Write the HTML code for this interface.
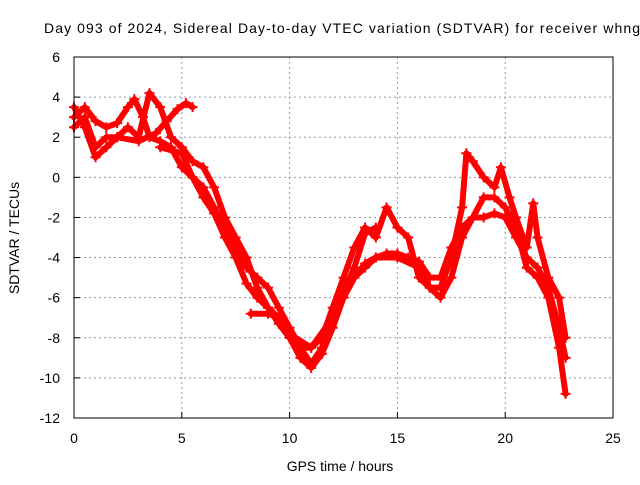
<!DOCTYPE html>
<html><head><meta charset="utf-8"><style>
body{margin:0;background:#fff}
svg{font-family:"Liberation Sans",sans-serif;font-size:14px}
</style></head><body>
<svg id="chart" width="640" height="480" viewBox="0 0 640 480">
<text x="44" y="33" textLength="596" lengthAdjust="spacing">Day 093 of 2024, Sidereal Day-to-day VTEC variation (SDTVAR) for receiver whng</text>
<g id="grid"></g>
<g id="series"></g>
<rect x="74" y="57" width="539" height="361" fill="none" stroke="#000" stroke-width="1"/>
<g id="ticks"></g>
<text x="340" y="471" text-anchor="middle">GPS time / hours</text>
<text transform="translate(19,238) rotate(-90)" text-anchor="middle">SDTVAR / TECUs</text>
</svg>
<script>
const xTicks=[0,5,10,15,20,25];
const yTicks=[6,4,2,0,-2,-4,-6,-8,-10,-12];
const track1=[[0,3],[0.5,3.5],[1,2.8],[1.5,2.5],[2,2.7],[2.5,3.5],[2.8,3.9],[3.2,3],[3.5,2],[4,1.8],[4.5,1.5],[5,0.5],[5.5,0],[6,-0.5],[6.5,-1.5],[7,-2.5],[7.5,-3.5],[8,-4.5],[8.5,-5],[9,-5.5],[9.5,-6.5],[10,-7.5],[10.5,-8.5],[11,-9.3],[11.5,-8.5],[12,-7],[12.5,-6],[13,-5],[13.5,-4.5],[14,-4],[14.5,-3.8],[15,-3.8],[15.5,-4],[16,-4.2],[16.5,-5],[17,-5],[17.5,-3.5],[18,-2.5],[18.5,-2],[19,-2],[19.5,-1.8],[20,-2],[20.5,-3],[21,-4],[21.5,-4.5],[22,-5.5],[22.5,-7.5],[22.8,-9]];
const track2=[[0,2.5],[0.5,3],[1,1.5],[1.5,2],[2,2],[2.5,2.5],[3,2],[3.5,4.2],[4,3.5],[4.5,2],[5,1.5],[5.5,0.8],[6,0.5],[6.5,-0.5],[7,-2],[7.5,-3],[8,-4],[8.5,-5.5],[9,-6.5],[9.5,-7],[10,-8],[10.5,-8.5],[11,-8.5],[11.5,-8],[12,-6.5],[12.5,-5],[13,-3.5],[13.5,-2.5],[14,-3],[14.5,-1.5],[15,-2.5],[15.5,-3],[16,-5],[16.5,-5.5],[17,-5.5],[17.5,-4],[18,-1.5],[18.2,1.2],[18.5,0.8],[19,0],[19.5,-0.5],[19.8,0.5],[20.2,-1],[20.5,-2],[21,-3.5],[21.3,-1.3],[21.5,-3],[22,-5],[22.5,-6],[22.8,-8]];
const track3=[[0,3.5],[0.5,2.5],[1,1],[1.5,1.5],[2,2],[3,1.8],[3.8,2.2],[4.3,2.8],[4.8,3.4],[5.2,3.7],[5.5,3.5]];
const track4=[[4,1.5],[5,1.2],[5.5,0],[6,-1],[6.5,-1.8],[7,-3],[7.5,-4],[8,-5.3],[8.5,-6],[9,-6.5],[9.5,-7.3],[10,-8],[10.5,-9],[11,-9.5],[11.5,-8.8],[12,-7.5],[12.5,-6],[13,-5],[13.5,-4.3],[14,-4],[15,-4],[16,-4.5],[16.5,-5.5],[17,-6],[17.5,-5],[18,-3],[18.5,-2],[19,-1],[19.5,-1],[20,-1.5],[20.5,-2.5],[21,-4.5],[21.5,-5],[22,-6],[22.5,-8.5],[22.8,-10.8]];
const track5=[[8.2,-6.8],[9,-6.8],[9.5,-7],[10,-7.8],[11,-8.5],[12,-7],[13,-4.5],[13.5,-2.8],[14,-2.5]];
const tracks=[track1,track2,track3,track4,track5];
const X=h=>74+h*539/25, Y=v=>57+(6-v)*361/18;
const NS='http://www.w3.org/2000/svg';
const grid=document.getElementById('grid'),ticks=document.getElementById('ticks'),ser=document.getElementById('series');
function mk(t,a,p){const e=document.createElementNS(NS,t);for(const k in a)e.setAttribute(k,a[k]);p.appendChild(e);return e;}
xTicks.forEach(t=>{
 if(t>0&&t<25){const g=mk('line',{x1:X(t),x2:X(t),y1:57,y2:418,stroke:'#999','stroke-dasharray':'2,3'},grid);
 
 }
 const tl=mk('text',{x:X(t),y:443,'text-anchor':'middle'},ticks);tl.textContent=t;
 
 
 mk('line',{x1:X(t),x2:X(t),y1:418,y2:412,stroke:'#000'},ticks);
});
yTicks.forEach(t=>{
 if(t<6&&t>-12){const g=mk('line',{x1:74,x2:613,y1:Y(t),y2:Y(t),stroke:'#999','stroke-dasharray':'2,3'},grid);
 
 }
 const tl=mk('text',{x:60,y:Y(t)+5,'text-anchor':'end'},ticks);tl.textContent=t;
 
 
 mk('line',{x1:74,x2:80,y1:Y(t),y2:Y(t),stroke:'#000'},ticks);
});
tracks.forEach((tr,i)=>{
 const pl=mk('polyline',{points:tr.map(p=>X(p[0])+','+Y(p[1])).join(' '),fill:'none',stroke:'#f00','stroke-width':6,'stroke-linejoin':'round','stroke-linecap':'round'},ser);
 
 
 tr.forEach(p=>{const x=X(p[0]),y=Y(p[1]);
  const m=mk('path',{d:`M${x-5},${y}H${x+5}M${x},${y-5}V${y+5}`,stroke:'#f00','stroke-width':2},ser);
  
  });
});
</script>
</body></html>
